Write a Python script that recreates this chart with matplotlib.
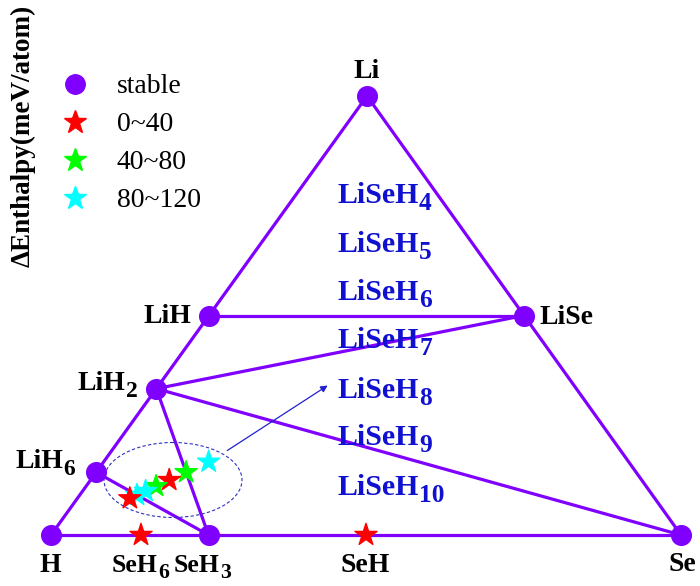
import numpy as np
import matplotlib.pyplot as plt
from matplotlib.patches import Ellipse
from matplotlib.lines import Line2D

# compositions as (Li, Se, H) atom counts
stable_names = ['Li', 'LiH', 'LiSe', 'LiH2', 'LiH6', 'H', 'Se', 'SeH3']
stable_comp = [(1, 0, 0), (1, 0, 1), (1, 1, 0), (1, 0, 2), (1, 0, 6),
               (0, 0, 1), (0, 1, 0), (0, 1, 3)]

# hull tie lines (pairs of stable phases)
tie_lines = [('Li', 'H'), ('Li', 'Se'), ('H', 'Se'), ('LiH', 'LiSe'),
             ('LiH2', 'LiSe'), ('LiH2', 'Se'), ('LiH2', 'SeH3'), ('LiH6', 'SeH3')]

# metastable binaries
bin_comp = [(0, 1, 6), (0, 1, 1)]
bin_cat = [0, 0]

# LiSeH_n ternaries, n = 4..10, and enthalpy category above hull
lisehn_n = [4, 5, 6, 7, 8, 9, 10]
lisehn_cat = [2, 1, 0, 1, 2, 2, 0]

cat_labels = ['0~40', '40~80', '80~120']
cat_colors = ['#ff0000', '#00ff00', '#00ffff']
purple = '#8000ff'

# triangle vertices in figure pixels: H, Se, Li corners
P_H = np.array([51., 535.])
P_Se = np.array([681., 535.])
P_Li = np.array([367., 96.])


def tern(c):
    li, se, h = c
    tot = li + se + h
    return (li * P_Li + se * P_Se + h * P_H) / tot


fig = plt.figure(figsize=(7, 5.86), dpi=100)
ax = fig.add_axes([0, 0, 1, 1])
ax.set_xlim(0, 700)
ax.set_ylim(586, 0)
ax.axis('off')

pos = {n: tern(c) for n, c in zip(stable_names, stable_comp)}
for a, b in tie_lines:
    ax.plot([pos[a][0], pos[b][0]], [pos[a][1], pos[b][1]], color=purple, lw=2.3, zorder=2)

sp = np.array([pos[n] for n in stable_names])
ax.scatter(sp[:, 0], sp[:, 1], s=200, color=purple, zorder=4)

bp = np.array([tern(c) for c in bin_comp])
ax.scatter(bp[:, 0], bp[:, 1], s=280, marker='*', color=[cat_colors[k] for k in bin_cat], zorder=5)

tp = np.array([tern((1, 1, n)) for n in lisehn_n])
ax.scatter(tp[:, 0], tp[:, 1], s=280, marker='*', color=[cat_colors[k] for k in lisehn_cat], zorder=5)

# dashed ellipse around the LiSeH_n points and arrow to labels
ax.add_patch(Ellipse((173, 480), 138, 75, fill=False, ls=(0, (3, 2)), lw=0.8, color='#3030c0', zorder=3))
ax.annotate('', xy=(330, 384), xytext=(225, 452),
            arrowprops=dict(arrowstyle='-|>', color='#2020d0', lw=0.9, mutation_scale=10))

serif = 'Liberation Serif'


def formula(x, y, main, sub='', size=20, color='black'):
    t = ax.text(x, y, main, fontfamily=serif, fontweight='bold', fontsize=size,
                color=color, ha='left', va='baseline')
    if sub:
        ax.annotate(sub, xy=(1, 0), xycoords=t, xytext=(0.5, -size * 0.05),
                    textcoords='offset points', fontfamily=serif, fontweight='bold',
                    fontsize=size * 0.85, color=color, ha='left', va='baseline')


formula(353, 78, 'Li')
formula(143, 323, 'LiH')
formula(540, 324, 'LiSe')
formula(77, 390, 'LiH', '2')
formula(15, 468, 'LiH', '6')
formula(39, 572, 'H')
formula(112, 572, 'SeH', '6', size=18.5)
formula(174, 572, 'SeH', '3', size=18.5)
formula(340, 572, 'SeH')
formula(668, 571, 'Se')

label_y = [203, 252, 300, 348, 398, 445, 495]
for n, y in zip(lisehn_n, label_y):
    formula(337, y, 'LiSeH', str(n), size=21.5, color='#1010d0')

ax.text(23, 136, 'ΔEnthalpy(meV/atom)', rotation=90, fontfamily=serif,
        fontweight='bold', fontsize=19.5, ha='center', va='center')

handles = [Line2D([], [], ls='', marker='o', ms=14, color=purple)]
handles += [Line2D([], [], ls='', marker='*', ms=17, color=c) for c in cat_colors]
ax.legend(handles, ['stable'] + cat_labels, loc='upper left', bbox_to_anchor=(61 / 700, 1 - 74 / 586),
          frameon=False, prop={'family': serif, 'size': 20}, labelspacing=0.45,
          handlelength=1.0, handletextpad=1.0, borderaxespad=0, borderpad=0)

fig.savefig('out.png', dpi=100)
